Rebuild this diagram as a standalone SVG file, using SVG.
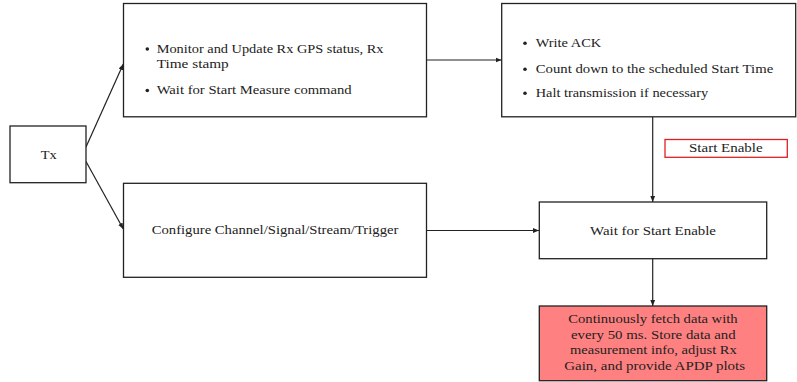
<svg xmlns="http://www.w3.org/2000/svg" width="797" height="382" viewBox="0 0 797 382">
<style>
.box{fill:#fff;stroke:#222;stroke-width:1.3}
.t{font-family:"Liberation Serif","DejaVu Serif",serif;font-size:13px;fill:#222}
.c{text-anchor:middle}
.ln{stroke:#222;stroke-width:1.2;fill:none;marker-end:url(#ah)}
</style>
<defs>
<marker id="ah" viewBox="0 0 10 10" refX="10" refY="5" markerWidth="6" markerHeight="6" markerUnits="userSpaceOnUse" orient="auto">
<path d="M0,1 L10,5 L0,9 Z" fill="#222"/>
</marker>
</defs>
<g id="connectors">
<line class="ln" x1="86" y1="147" x2="123.3" y2="64"/>
<line class="ln" x1="86" y1="161.5" x2="123.3" y2="229"/>
<line class="ln" x1="426.5" y1="60" x2="501.5" y2="60"/>
<line class="ln" x1="426.5" y1="230.5" x2="539" y2="230.5"/>
<line class="ln" x1="652.7" y1="117" x2="652.7" y2="202"/>
<line class="ln" x1="652.7" y1="259" x2="652.7" y2="306"/>
</g>
<g id="tx">
<rect class="box" x="10" y="126" width="76" height="56.7"/>
<text class="t" x="40.7" y="158.5" textLength="16" lengthAdjust="spacingAndGlyphs">Tx</text>
</g>
<g id="monitor">
<rect class="box" x="123.5" y="3.5" width="303" height="113.3"/>
<circle cx="147.3" cy="49" r="1.8" fill="#222"/>
<text class="t" x="156.7" y="52.5" textLength="226.7" lengthAdjust="spacingAndGlyphs">Monitor and Update Rx GPS status, Rx</text>
<text class="t" x="156.7" y="67.8" textLength="72" lengthAdjust="spacingAndGlyphs">Time stamp</text>
<circle cx="147.3" cy="90.5" r="1.8" fill="#222"/>
<text class="t" x="156.7" y="94" textLength="195" lengthAdjust="spacingAndGlyphs">Wait for Start Measure command</text>
</g>
<g id="ack">
<rect class="box" x="501.7" y="3.5" width="294" height="113.3"/>
<circle cx="525" cy="43.3" r="1.8" fill="#222"/>
<text class="t" x="535.7" y="46.7" textLength="65.5" lengthAdjust="spacingAndGlyphs">Write ACK</text>
<circle cx="525" cy="69.3" r="1.8" fill="#222"/>
<text class="t" x="535.7" y="72.7" textLength="237.5" lengthAdjust="spacingAndGlyphs">Count down to the scheduled Start Time</text>
<circle cx="525" cy="93.3" r="1.8" fill="#222"/>
<text class="t" x="535.7" y="96.7" textLength="172.5" lengthAdjust="spacingAndGlyphs">Halt transmission if necessary</text>
</g>
<g id="config">
<rect class="box" x="123.5" y="183.3" width="303" height="94"/>
<text class="t" x="151.7" y="233.5" textLength="246.7" lengthAdjust="spacingAndGlyphs">Configure Channel/Signal/Stream/Trigger</text>
</g>
<g id="start-enable-label">
<rect x="665" y="139.5" width="122.3" height="17.8" fill="#fff" stroke="#e02020" stroke-width="1.3"/>
<text class="t" x="689" y="152.3" textLength="73.7" lengthAdjust="spacingAndGlyphs">Start Enable</text>
</g>
<g id="wait">
<rect class="box" x="539.3" y="202" width="227.4" height="56.7"/>
<text class="t" x="590" y="234.5" textLength="126" lengthAdjust="spacingAndGlyphs">Wait for Start Enable</text>
</g>
<g id="fetch">
<rect x="539.3" y="306" width="227.4" height="74.7" fill="#ff8080" stroke="#222" stroke-width="1.3"/>
<text class="t" x="568.3" y="323.3" textLength="169.3" lengthAdjust="spacingAndGlyphs">Continuously fetch data with</text>
<text class="t" x="571" y="338.5" textLength="164.7" lengthAdjust="spacingAndGlyphs">every 50 ms. Store data and</text>
<text class="t" x="570" y="354" textLength="166.7" lengthAdjust="spacingAndGlyphs">measurement info, adjust Rx</text>
<text class="t" x="564.3" y="370" textLength="180.7" lengthAdjust="spacingAndGlyphs">Gain, and provide APDP plots</text>
</g>
</svg>
